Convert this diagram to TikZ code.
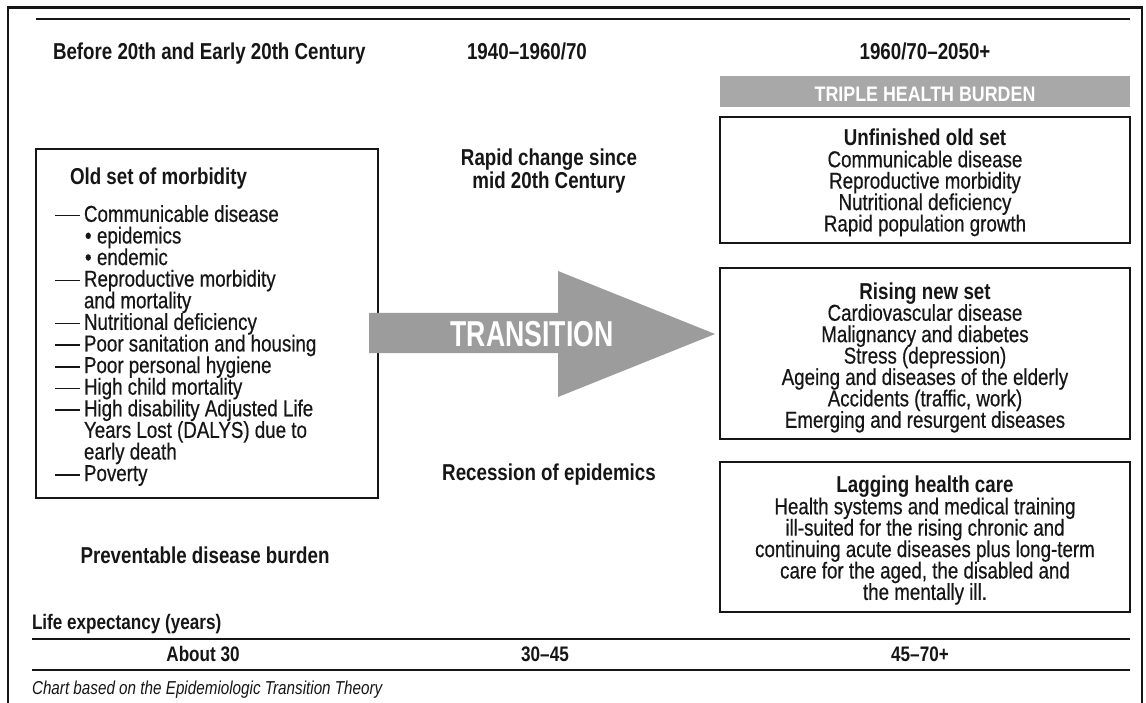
\documentclass[tikz,border=0pt]{standalone}
\usepackage{fontspec}
\setmainfont[FakeStretch=0.815, UprightFeatures={FakeBold=0.5}]{Liberation Sans}
\newfontfamily\transfont[FakeStretch=0.74]{Liberation Sans}
\newfontfamily\barfont[FakeStretch=0.85]{Liberation Sans}
\definecolor{arrowgray}{HTML}{9C9C9C}
\definecolor{bargray}{HTML}{A8A8A8}
\definecolor{ink}{HTML}{161616}
\newcommand{\dashitem}{\makebox[29pt][l]{\rule[5.5pt]{25pt}{1.6pt}}}
\newcommand{\contitem}{\hspace*{29pt}}
\newcommand{\bulitem}{\hspace*{30pt}\makebox[12pt][l]{\textbullet}}
\newcommand{\tightlines}{\lineskiplimit -50pt\relax}
\begin{document}
\begin{tikzpicture}[x=1pt,y=-1pt,
  every node/.style={inner sep=0pt, outer sep=0pt, text=ink},
  body/.style={font=\fontsize{23}{21.4}\selectfont\tightlines},
  listtext/.style={font=\fontsize{23}{21.6}\selectfont\tightlines, align=left},
  hdr/.style={font=\fontsize{23}{23}\selectfont\tightlines\bfseries},
  bottomtext/.style={font=\fontsize{21}{22}\selectfont\bfseries},
  notetext/.style={font=\fontsize{18.7}{20}\selectfont\itshape},
  boxframe/.style={draw=ink, line width=1.2pt, minimum width=410pt},
  rulefine/.style={draw=ink, line width=1.2pt},
  centertext/.style={body, align=center, anchor=north}
]
\useasboundingbox (0,0) rectangle (1146,703);
\fill[white] (0,0) rectangle (1146,703);

% outer frame and top rule
\draw[ink, line width=2.6pt] (8,712) -- (8,7.5) -- (1142,7.5) -- (1142,712);
\draw[ink, line width=2.2pt] (36,19) -- (1130,19);

% column headers
\node[hdr, anchor=base west] (h1) at (53,59.5) {Before 20th and Early 20th Century};
\node[hdr, anchor=base] (h2) at (527,59.5) {1940–1960/70};
\node[hdr, anchor=base] (h3) at (925,59.5) {1960/70–2050+};

% left box
\node[draw=ink, line width=1.2pt, minimum width=342pt, minimum height=349pt] (oldbox) at (207,323.5) {};
\node[hdr, anchor=base west] (oldtitle) at (70,185) {Old set of morbidity};
\node[listtext, anchor=north west] (oldlist) at (55,205.2) {%
\dashitem Communicable disease\\
\bulitem epidemics\\
\bulitem endemic\\
\dashitem Reproductive morbidity\\
\contitem and mortality\\
\dashitem Nutritional deficiency\\
\dashitem Poor sanitation and housing\\
\dashitem Poor personal hygiene\\
\dashitem High child mortality\\
\dashitem High disability Adjusted Life\\
\contitem Years Lost (DALYS) due to\\
\contitem early death\\
\dashitem Poverty};
\node[hdr, anchor=base] (prev) at (205,563) {Preventable disease burden};

% middle column
\node[hdr, align=center, anchor=north] (rapid) at (549,149.2) {Rapid change since\\mid 20th Century};
\node[hdr, anchor=base] (recess) at (549,480) {Recession of epidemics};

% transition arrow
\fill[arrowgray] (369,313) -- (558,313) -- (558,271) -- (715,334) -- (558,397) -- (558,353) -- (369,353) -- cycle;
\node[font=\fontsize{36}{38}\transfont\bfseries, text=white] (trans) at (532,334) {TRANSITION};

% triple health burden bar
\node[fill=bargray, minimum width=410pt, minimum height=31pt, text=white,
      font=\fontsize{21}{22}\barfont\bfseries, text height=20.5pt, text depth=1.3pt] (bar) at (925,91.5) {TRIPLE HEALTH BURDEN};

% right boxes
\node[boxframe, minimum height=126pt] (box1) at (925,180) {};
\node[centertext] (t1) at (925,129.2) {\textbf{Unfinished old set}\\Communicable disease\\Reproductive morbidity\\Nutritional deficiency\\Rapid population growth};

\node[boxframe, minimum height=171pt] (box2) at (925,353.5) {};
\node[centertext] (t2) at (925,282.7) {\textbf{Rising new set}\\Cardiovascular disease\\Malignancy and diabetes\\Stress (depression)\\Ageing and diseases of the elderly\\Accidents (traffic, work)\\Emerging and resurgent diseases};

\node[boxframe, minimum height=150pt] (box3) at (925,537) {};
\node[centertext] (t3) at (925,476.2) {\textbf{Lagging health care}\\Health systems and medical training\\ill-suited for the rising chronic and\\continuing acute diseases plus long-term\\care for the aged, the disabled and\\the mentally ill.};

% life expectancy table
\node[bottomtext, anchor=base west] (life) at (32,629) {Life expectancy (years)};
\coordinate (r1a) at (32,639);
\coordinate (r1b) at (1130,639);
\coordinate (r2a) at (32,670);
\coordinate (r2b) at (1130,670);
\draw[rulefine] (r1a) -- (r1b);
\draw[rulefine] (r2a) -- (r2b);
\node[bottomtext, anchor=base] (le1) at (203,661) {About 30};
\node[bottomtext, anchor=base] (le2) at (545,661) {30–45};
\node[bottomtext, anchor=base] (le3) at (920,661) {45–70+};
\node[notetext, anchor=base west] (note) at (32,694) {Chart based on the Epidemiologic Transition Theory};
\end{tikzpicture}
\end{document}
